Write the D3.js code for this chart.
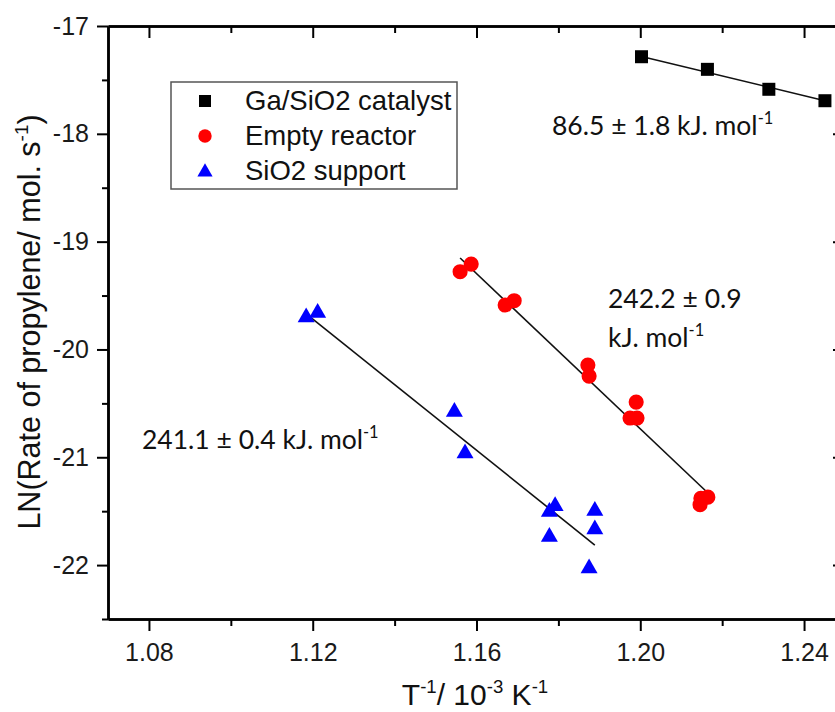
<!DOCTYPE html>
<html>
<head>
<meta charset="utf-8">
<script src="https://cdn.jsdelivr.net/npm/d3@7"></script>
<style>
  body { margin: 0; background: #fff; }
  .axis path, .axis line { stroke: #000; }
  .axis path { stroke-width: 2.5; }
  .axis line { stroke-width: 2; }
  .axis text { font-family: Arial, "Liberation Sans", sans-serif; font-size: 25px; fill: #1a1a1a; }
</style>
</head>
<body>
<script>
// data (x = 1/T in 10^-3 K^-1, y = ln rate)
var gaX = [1.2003, 1.2164, 1.2314, 1.2451],
    gaY = [-17.285, -17.402, -17.587, -17.693];

var emptyX = [1.1560, 1.1587, 1.1670, 1.1692, 1.1872, 1.1875, 1.1990, 1.1975, 1.1992, 1.2148, 1.2165, 1.2146],
    emptyY = [-19.279, -19.208, -19.588, -19.548, -20.145, -20.247, -20.488, -20.636, -20.636, -21.38, -21.37, -21.44];

var supportX = [1.1184, 1.1212, 1.1546, 1.1572, 1.1792, 1.1778, 1.1778, 1.1889, 1.1889, 1.1875],
    supportY = [-19.702, -19.660, -20.578, -20.964, -21.453, -21.506, -21.738, -21.496, -21.669, -22.031];

// fitted lines, end points
var gaFitX = [1.2003, 1.2451], gaFitY = [-17.283, -17.693];
var emptyFitX = [1.1560, 1.2162], emptyFitY = [-19.152, -21.320];
var supportFitX = [1.1185, 1.1889], supportFitY = [-19.672, -21.814];

var xMajor = [1.08, 1.12, 1.16, 1.20, 1.24],
    xMinor = [1.10, 1.14, 1.18, 1.22];
var yMajor = [-17, -18, -19, -20, -21, -22],
    yMinor = [-17.5, -18.5, -19.5, -20.5, -21.5, -22.5];

var legendNames = ["Ga/SiO2 catalyst", "Empty reactor", "SiO2 support"];

var margin = {top: 26, right: -10, bottom: 93, left: 108},
    width = 835 - margin.left - margin.right,
    height = 712 - margin.top - margin.bottom;

var svg = d3.select("body").append("svg")
    .attr("width", 835)
    .attr("height", 712);

var g = svg.append("g")
    .attr("transform", "translate(" + margin.left + "," + margin.top + ")");

var x = d3.scaleLinear().domain([1.07, 1.25]).range([0, width]),
    y = d3.scaleLinear().domain([-22.5, -17]).range([height, 0]);

// axes: majors with labels, minors without
g.append("g").attr("class", "axis")
    .attr("transform", "translate(0," + height + ")")
    .call(d3.axisBottom(x).tickValues(xMajor).tickSize(12).tickSizeOuter(0).tickPadding(12)
        .tickFormat(function(d) { return d.toFixed(2); }));
g.append("g").attr("class", "axis")
    .attr("transform", "translate(0," + height + ")")
    .call(d3.axisBottom(x).tickValues(xMinor).tickSize(7).tickSizeOuter(0).tickFormat(""));

g.append("g").attr("class", "axis")
    .call(d3.axisLeft(y).tickValues(yMajor).tickSize(11).tickSizeOuter(0).tickPadding(8)
        .tickFormat(function(d) { return String(d); }));
g.append("g").attr("class", "axis")
    .call(d3.axisLeft(y).tickValues(yMinor).tickSize(6).tickSizeOuter(0).tickFormat(""));

// top and right frame, ticks pointing inside
g.append("g").attr("class", "axis")
    .call(d3.axisTop(x).tickValues(xMajor).tickSize(-12).tickSizeOuter(0).tickFormat(""));
g.append("g").attr("class", "axis")
    .call(d3.axisTop(x).tickValues(xMinor).tickSize(-7).tickSizeOuter(0).tickFormat(""));
g.append("g").attr("class", "axis")
    .attr("transform", "translate(" + width + ",0)")
    .call(d3.axisRight(y).tickValues(yMajor).tickSize(-12).tickSizeOuter(0).tickFormat(""));

// fit lines
var line = d3.line()
    .x(function(d) { return x(d[0]); })
    .y(function(d) { return y(d[1]); });

[[gaFitX, gaFitY], [emptyFitX, emptyFitY], [supportFitX, supportFitY]].forEach(function(f) {
  g.append("path")
      .datum(d3.zip(f[0], f[1]))
      .attr("d", line)
      .attr("fill", "none")
      .attr("stroke", "#111")
      .attr("stroke-width", 1.6);
});

// points
var sqSym = d3.symbol().type(d3.symbolSquare).size(169),
    ciSym = d3.symbol().type(d3.symbolCircle).size(180),
    trSym = d3.symbol().type(d3.symbolTriangle).size(125);

function drawPoints(xs, ys, sym, color) {
  g.selectAll(null)
      .data(d3.zip(xs, ys))
    .enter().append("path")
      .attr("d", sym)
      .attr("transform", function(d) { return "translate(" + x(d[0]) + "," + y(d[1]) + ")"; })
      .attr("fill", color);
}
drawPoints(emptyX, emptyY, ciSym, "#ff0000");
drawPoints(supportX, supportY, trSym, "#0000ff");
drawPoints(gaX, gaY, sqSym, "#000");

// legend
var legend = svg.append("g");
legend.append("rect")
    .attr("x", 171).attr("y", 82).attr("width", 286).attr("height", 107)
    .attr("fill", "#fff").attr("stroke", "#555").attr("stroke-width", 1.5);

var legSyms = [d3.symbol().type(d3.symbolSquare).size(144)(),
               d3.symbol().type(d3.symbolCircle).size(140)(),
               d3.symbol().type(d3.symbolTriangle).size(100)()],
    legColors = ["#000", "#ff0000", "#0000ff"];

legendNames.forEach(function(name, i) {
  var cy = 101 + i * 35;
  legend.append("path")
      .attr("d", legSyms[i])
      .attr("transform", "translate(205," + (cy + (i == 2 ? 1 : 0)) + ")")
      .attr("fill", legColors[i]);
  legend.append("text")
      .attr("x", 245).attr("y", cy + 9)
      .style("font-family", "Arial, 'Liberation Sans', sans-serif")
      .style("font-size", "27.5px")
      .style("fill", "#111")
      .text(name);
});

// text with superscript parts; the part after a superscript drops back down
function supText(parent, px, py, parts, family, size) {
  var t = parent.append("text")
      .attr("x", px).attr("y", py)
      .style("font-family", family)
      .style("font-size", size + "px")
      .style("fill", "#111");
  var raised = false;
  parts.forEach(function(p) {
    if (p.sup) {
      t.append("tspan").attr("dy", -size * 0.4).style("font-size", (size * 0.62) + "px").text(p.sup);
      raised = true;
    } else {
      var s = t.append("tspan").text(p.t);
      if (raised) { s.attr("dy", size * 0.4); raised = false; }
    }
  });
  return t;
}

var calib = "Lato, 'Open Sans', sans-serif";
supText(svg, 552, 135, [{t: "86.5 \u00b1 1.8 kJ. mol"}, {sup: "-1"}], calib, 26.5);
supText(svg, 608, 308, [{t: "242.2 \u00b1 0.9"}], calib, 26.5);
supText(svg, 608, 347, [{t: "kJ. mol"}, {sup: "-1"}], calib, 26.5);
supText(svg, 142, 449, [{t: "241.1 \u00b1 0.4 kJ. mol"}, {sup: "-1"}], calib, 26.5);

// axis titles
var arial = "Arial, 'Liberation Sans', sans-serif";
var yl = supText(svg, 0, 0, [{t: "LN(Rate of propylene/ mol. s"}, {sup: "-1"}, {t: ")"}], arial, 30.5);
yl.attr("text-anchor", "middle").attr("transform", "translate(40,322) rotate(-90)");

supText(svg, 475, 705, [{t: "T"}, {sup: "-1"}, {t: "/ 10"}, {sup: "-3"}, {t: " K"}, {sup: "-1"}], arial, 30)
    .attr("text-anchor", "middle");
</script>
</body>
</html>
